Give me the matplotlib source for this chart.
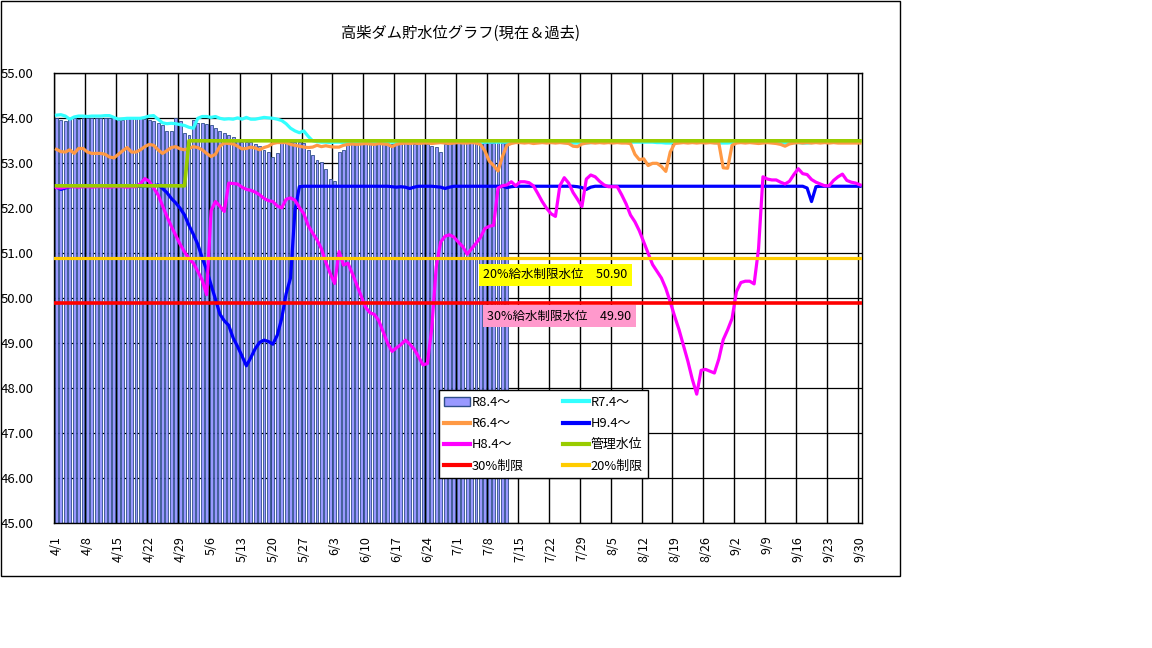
import matplotlib
matplotlib.use("Agg")
import matplotlib.pyplot as plt
from matplotlib.patches import Rectangle, Patch
from matplotlib.lines import Line2D
import numpy as np
import pandas as pd

plt.rcParams['font.family'] = ['Noto Sans CJK JP', 'DejaVu Sans']

# ---------------- data ----------------
dates = pd.date_range('2021-04-01', '2021-09-30', freq='D')
categories = [f"{d.month}/{d.day}" for d in dates]

# R8.4~ (bars, 4/1 - 7/12)
r8 = [54.00, 53.97, 53.95, 54.00, 54.00, 53.98, 54.00, 54.00, 54.00, 54.00,
      54.00, 54.00, 54.00, 54.00, 53.96, 53.97, 54.00, 54.00, 54.00, 54.00,
      53.98, 53.97, 53.95, 53.90, 53.85, 53.72, 53.72, 54.00, 53.93, 53.68,
      53.62, 53.96, 53.90, 53.90, 53.88, 53.84, 53.78, 53.72, 53.67, 53.63,
      53.58, 53.50, 53.48, 53.48, 53.48, 53.42, 53.38, 53.30, 53.26, 53.15,
      53.22, 53.47, 53.48, 53.48, 53.48, 53.48, 53.45, 53.30, 53.18, 53.07,
      53.02, 52.87, 52.64, 52.60, 53.24, 53.30, 53.40, 53.42, 53.43, 53.43,
      53.44, 53.44, 53.43, 53.44, 53.44, 53.45, 53.44, 53.43, 53.44, 53.45,
      53.45, 53.44, 53.45, 53.45, 53.42, 53.38, 53.37, 53.26, 53.42, 53.45,
      53.45, 53.45, 53.46, 53.46, 53.45, 53.46, 53.46, 53.45, 53.46, 53.46,
      53.46, 53.46, 53.46]

# R7.4~
r7 = [54.07, 54.08, 54.05, 53.98, 54.03, 54.05, 54.05, 54.04, 54.05, 54.05,
      54.05, 54.06, 54.06, 54.02, 53.98, 53.99, 54.00, 54.00, 54.00, 54.00,
      54.02, 54.05, 54.06, 53.98, 53.90, 53.88, 53.89, 53.88, 53.86, 53.84,
      53.80, 53.78, 54.00, 54.04, 54.04, 54.02, 54.04, 54.00, 53.98, 53.99,
      53.98, 54.01, 53.98, 54.02, 53.98, 53.98, 54.00, 54.02, 54.01, 54.00,
      53.98, 53.95, 53.88, 53.78, 53.72, 53.68, 53.72, 53.60, 53.50, 53.48,
      53.47, 53.47, 53.46, 53.47, 53.47, 53.46, 53.47, 53.47, 53.47, 53.46,
      53.47, 53.47, 53.47, 53.46, 53.47, 53.47, 53.47, 53.46, 53.47, 53.47,
      53.46, 53.47, 53.47, 53.47, 53.46, 53.47, 53.47, 53.47, 53.46, 53.47,
      53.47, 53.47, 53.46, 53.47, 53.47, 53.47, 53.46, 53.47, 53.47, 53.47,
      53.47, 53.47, 53.47, 53.46, 53.47, 53.47, 53.47, 53.47, 53.47, 53.47,
      53.47, 53.47, 53.47, 53.47, 53.47, 53.46, 53.46, 53.45, 53.45, 53.46,
      53.45, 53.46, 53.47, 53.47, 53.47, 53.47, 53.47, 53.47, 53.47, 53.47,
      53.47, 53.47, 53.47, 53.47, 53.47, 53.47, 53.46, 53.46, 53.45, 53.45,
      53.47, 53.47, 53.47, 53.47, 53.47, 53.47, 53.47, 53.47, 53.47, 53.46,
      53.45, 53.45, 53.45, 53.46, 53.47, 53.47, 53.47, 53.47, 53.47, 53.47,
      53.47, 53.47, 53.47, 53.46, 53.45, 53.45, 53.45, 53.46, 53.46, 53.45,
      53.45, 53.46, 53.47, 53.47, 53.47, 53.47, 53.47, 53.47, 53.47, 53.47,
      53.47, 53.47, 53.47]

# R6.4~
r6 = [53.31, 53.26, 53.25, 53.30, 53.22, 53.33, 53.33, 53.25, 53.22, 53.22,
      53.22, 53.20, 53.14, 53.12, 53.20, 53.28, 53.35, 53.25, 53.25, 53.30,
      53.37, 53.42, 53.40, 53.30, 53.22, 53.28, 53.35, 53.37, 53.32, 53.30,
      53.33, 53.37, 53.35, 53.30, 53.22, 53.15, 53.20, 53.38, 53.45, 53.44,
      53.43, 53.38, 53.32, 53.33, 53.36, 53.34, 53.30, 53.35, 53.38, 53.44,
      53.46, 53.46, 53.46, 53.42, 53.40, 53.38, 53.36, 53.35, 53.36, 53.40,
      53.37, 53.39, 53.37, 53.36, 53.36, 53.40, 53.42, 53.43, 53.42, 53.43,
      53.44, 53.43, 53.42, 53.44, 53.43, 53.42, 53.37, 53.42, 53.44, 53.45,
      53.44, 53.45, 53.44, 53.45, 53.45, 53.44, 53.45, 53.46, 53.45, 53.44,
      53.45, 53.46, 53.45, 53.45, 53.46, 53.45, 53.42, 53.28, 53.05, 52.95,
      52.83, 53.15, 53.40, 53.44, 53.46, 53.46, 53.45, 53.46, 53.44, 53.45,
      53.46, 53.45, 53.46, 53.45, 53.46, 53.45, 53.44, 53.38, 53.37, 53.43,
      53.45, 53.46, 53.45, 53.46, 53.45, 53.46, 53.45, 53.46, 53.45, 53.45,
      53.44, 53.20, 53.08, 53.10, 52.95, 53.00, 53.00, 52.93, 52.82, 53.25,
      53.44, 53.45, 53.46, 53.45, 53.46, 53.45, 53.46, 53.45, 53.46, 53.45,
      53.45, 52.90, 52.89, 53.40, 53.45, 53.46, 53.45, 53.46, 53.45, 53.44,
      53.45, 53.46, 53.45, 53.44, 53.42, 53.38, 53.43, 53.45, 53.46, 53.45,
      53.46, 53.45, 53.46, 53.45, 53.46, 53.45, 53.46, 53.45, 53.45, 53.45,
      53.45, 53.45, 53.45]

# H9.4~
h9 = [52.47, 52.42, 52.45, 52.48, 52.49, 52.49, 52.49, 52.49, 52.49, 52.49,
      52.49, 52.50, 52.50, 52.49, 52.49, 52.49, 52.50, 52.50, 52.49, 52.49,
      52.50, 52.50, 52.50, 52.52, 52.44, 52.35, 52.22, 52.12, 52.00, 51.85,
      51.62, 51.42, 51.20, 50.90, 50.63, 50.30, 49.98, 49.65, 49.50, 49.40,
      49.12, 48.93, 48.72, 48.50, 48.68, 48.88, 49.02, 49.07, 49.04, 48.98,
      49.18, 49.55, 50.10, 50.45, 51.95, 52.48, 52.49, 52.49, 52.49, 52.49,
      52.49, 52.49, 52.49, 52.49, 52.49, 52.49, 52.49, 52.49, 52.49, 52.49,
      52.49, 52.49, 52.49, 52.49, 52.49, 52.49, 52.48, 52.47, 52.48, 52.47,
      52.44, 52.47, 52.49, 52.49, 52.49, 52.49, 52.48, 52.47, 52.44, 52.47,
      52.49, 52.49, 52.49, 52.49, 52.49, 52.49, 52.49, 52.49, 52.49, 52.49,
      52.49, 52.49, 52.46, 52.48, 52.49, 52.49, 52.49, 52.49, 52.49, 52.49,
      52.49, 52.49, 52.49, 52.49, 52.49, 52.49, 52.49, 52.49, 52.48, 52.46,
      52.42, 52.47, 52.49, 52.49, 52.49, 52.49, 52.49, 52.49, 52.49, 52.49,
      52.49, 52.49, 52.49, 52.49, 52.49, 52.49, 52.49, 52.49, 52.49, 52.49,
      52.49, 52.49, 52.49, 52.49, 52.49, 52.49, 52.49, 52.49, 52.49, 52.49,
      52.49, 52.49, 52.49, 52.49, 52.49, 52.49, 52.49, 52.49, 52.49, 52.49,
      52.49, 52.49, 52.49, 52.49, 52.49, 52.49, 52.49, 52.49, 52.49, 52.49,
      52.45, 52.15, 52.48, 52.49, 52.49, 52.49, 52.49, 52.49, 52.49, 52.49,
      52.49, 52.49, 52.49]

# H8.4~
h8 = [52.46, 52.45, 52.47, 52.48, 52.48, 52.47, 52.48, 52.48, 52.47, 52.48,
      52.48, 52.48, 52.47, 52.48, 52.48, 52.48, 52.47, 52.48, 52.48, 52.55,
      52.66, 52.60, 52.45, 52.30, 52.06, 51.82, 51.60, 51.40, 51.20, 51.03,
      50.88, 50.78, 50.60, 50.40, 50.08, 51.95, 52.15, 52.05, 51.93, 52.56,
      52.55, 52.54, 52.47, 52.42, 52.40, 52.36, 52.30, 52.22, 52.17, 52.15,
      52.05, 52.01, 52.20, 52.23, 52.18, 52.02, 51.88, 51.62, 51.45, 51.30,
      51.10, 50.80, 50.55, 50.33, 51.04, 50.74, 50.78, 50.55, 50.30, 50.05,
      49.80, 49.68, 49.64, 49.50, 49.25, 49.00, 48.82, 48.90, 48.97, 49.07,
      48.98, 48.87, 48.70, 48.52, 48.55, 49.35, 50.70, 51.25, 51.38, 51.41,
      51.36, 51.25, 51.15, 50.98, 51.10, 51.22, 51.35, 51.55, 51.60, 51.62,
      52.45, 52.50, 52.52, 52.59, 52.50, 52.59, 52.59, 52.57, 52.50, 52.33,
      52.15, 52.00, 51.88, 51.82, 52.50, 52.68, 52.56, 52.35, 52.20, 52.04,
      52.65, 52.74, 52.70, 52.60, 52.52, 52.48, 52.48, 52.48, 52.30, 52.10,
      51.85, 51.70, 51.50, 51.25, 51.00, 50.75, 50.60, 50.45, 50.22, 49.92,
      49.60, 49.30, 48.95, 48.60, 48.20, 47.87, 48.40, 48.42, 48.38, 48.34,
      48.65, 49.08, 49.30, 49.55, 50.15, 50.35, 50.38, 50.38, 50.32, 51.10,
      52.70, 52.65, 52.63, 52.63, 52.58, 52.54, 52.60, 52.75, 52.88, 52.77,
      52.75, 52.64, 52.58, 52.54, 52.50, 52.50, 52.62, 52.70, 52.76, 52.62,
      52.58, 52.56, 52.52]

# 管理水位 (step: 52.5 until 4/30, 53.5 from 5/1)
kanri_levels = [52.5, 53.5]
kanri_days = [30, 153]
kanri = [kanri_levels[0]] * kanri_days[0] + [kanri_levels[1]] * kanri_days[1]

limit30 = 49.90
limit20 = 50.90

series_labels = ['R8.4～', 'R7.4～', 'R6.4～', 'H9.4～', 'H8.4～', '管理水位', '30%制限', '20%制限']
title = '高柴ダム貯水位グラフ(現在＆過去)'
note20 = '20%給水制限水位　50.90'
note30 = '30%給水制限水位　49.90'

# ---------------- figure ----------------
W, H = 1152, 648
fig = plt.figure(figsize=(W / 100, H / 100), dpi=100)
ax = fig.add_axes([54.3 / W, 1 - 523.3 / H, 808 / W, 450 / H])

x = np.arange(len(categories))
colors = ['#9999FF', '#33FFFF', '#FF9944', '#0000FF', '#FF00FF', '#99CC00', '#FF0000', '#FFCC00']
bar_edge = '#2E4E8A'

ax.bar(x[:len(r8)], np.array(r8) - 45, bottom=45, width=0.66, color=colors[0],
       edgecolor=bar_edge, linewidth=0.6, zorder=2)
lw = 2.3
ax.plot(x, r7, color=colors[1], lw=lw, zorder=3, solid_joinstyle='round')
ax.plot(x, r6, color=colors[2], lw=lw, zorder=4, solid_joinstyle='round')
ax.plot(x, h9, color=colors[3], lw=lw, zorder=5, solid_joinstyle='round')
ax.plot(x, h8, color=colors[4], lw=lw, zorder=6, solid_joinstyle='round')
ax.plot(x, kanri, color=colors[5], lw=lw + 0.3, zorder=7)
ax.axhline(limit30, color=colors[6], lw=lw + 0.3, zorder=8)
ax.axhline(limit20, color=colors[7], lw=lw, zorder=8)

ax.set_xlim(-0.5, len(categories) - 0.5)
ax.set_ylim(45, 55)
ax.set_yticks(np.arange(45, 55.01, 1))
ax.set_yticklabels([f"{v:.2f}" for v in np.arange(45, 55.01, 1)], fontsize=9.5)
lab_pos = x[::7]
ax.set_xticks(lab_pos)
ax.set_xticklabels([categories[i] for i in lab_pos], rotation=90, fontsize=9)
ax.set_xticks(lab_pos - 0.5, minor=True)
ax.tick_params(axis='both', which='both', length=0)
ax.tick_params(axis='y', pad=15)
ax.tick_params(axis='x', pad=9)
ax.set_axisbelow(True)
ax.grid(axis='y', which='major', color='black', lw=0.9)
ax.grid(axis='x', which='minor', color='black', lw=1.0)
ax.grid(axis='x', which='major', visible=False)
for s in ax.spines.values():
    s.set_color('black')
    s.set_linewidth(1.0)

# title
fig.text(461 / W, 1 - 33 / H, title, ha='center', va='center', fontsize=11)

# limit notes
fig.text(483 / W, 1 - 274.5 / H, note20, ha='left', va='center', fontsize=9,
         bbox=dict(facecolor='#FFFF00', edgecolor='none', pad=3.2))
fig.text(487 / W, 1 - 316 / H, note30, ha='left', va='center', fontsize=9,
         bbox=dict(facecolor='#FF99CC', edgecolor='none', pad=3.2))

# legend
handles = [
    Patch(facecolor=colors[0], edgecolor=bar_edge, linewidth=1.0),
    Line2D([], [], color=colors[2], lw=3),
    Line2D([], [], color=colors[4], lw=3),
    Line2D([], [], color=colors[6], lw=3),
    Line2D([], [], color=colors[1], lw=3),
    Line2D([], [], color=colors[3], lw=3),
    Line2D([], [], color=colors[5], lw=3),
    Line2D([], [], color=colors[7], lw=3),
]
labels = [series_labels[i] for i in [0, 2, 4, 6, 1, 3, 5, 7]]
leg = fig.legend(handles, labels, ncol=2, loc='upper left',
                 bbox_to_anchor=(438.5 / W, 1 - 390 / H), bbox_transform=fig.transFigure,
                 borderaxespad=0, fontsize=9.3, frameon=True, fancybox=False,
                 edgecolor='black', framealpha=1, handlelength=2.0, handleheight=0.7,
                 handletextpad=0.1, labelspacing=0.64, columnspacing=3.1,
                 borderpad=0.45)
leg.get_frame().set_linewidth(1.0)

# outer border
fig.add_artist(Rectangle((0.5 / W, 1 - 575.5 / H), 899 / W, 575 / H,
                         transform=fig.transFigure, fill=False, edgecolor='black', lw=1.0))

fig.savefig('out.png', dpi=100)
